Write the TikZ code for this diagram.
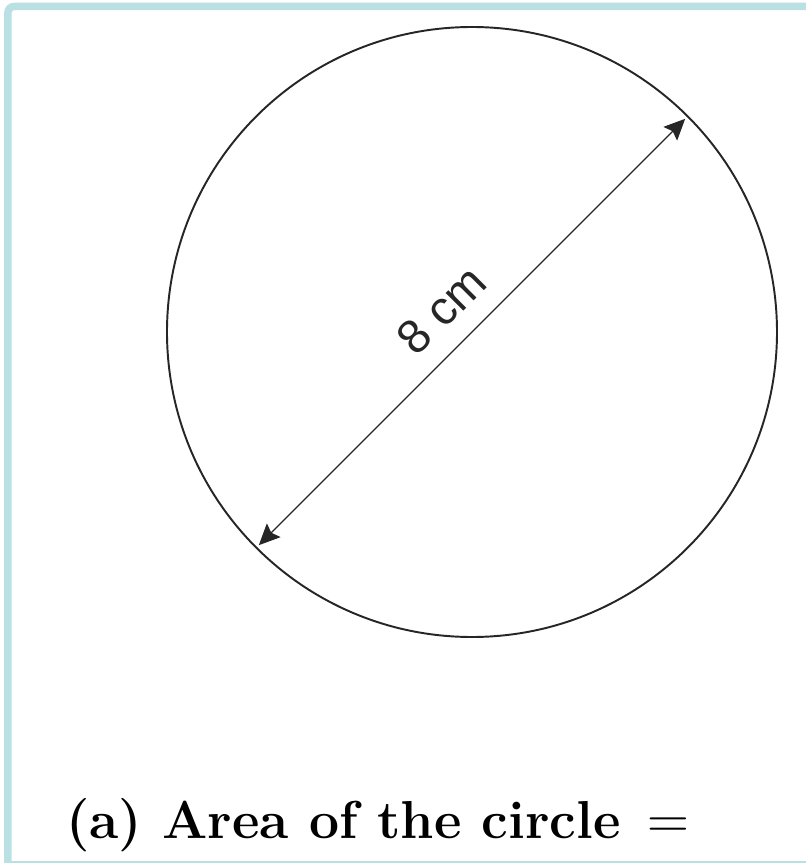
\documentclass[tikz,border=0pt]{standalone}
\usepackage{fontspec}
\usepackage{tikz}
\usetikzlibrary{arrows.meta}
\newfontfamily\labelfont{Liberation Sans}
\definecolor{framebl}{RGB}{186,224,228}

\begin{document}
\begin{tikzpicture}[>={Stealth[length=12pt, width=11pt, inset=2pt]}, rim/.style={draw=black!85, line width=1.1pt}]
	\useasboundingbox (-9.44,-10.62) rectangle (6.66,6.64);
	\draw[framebl, line width=0.15cm, rounded corners=0.12cm] (-9.28,-10.8) |- (6.9,6.51);
	\fill[framebl] (-9.28,-10.57) rectangle (6.8,-10.7);
	\node[rim, circle, minimum size=12.2cm, inner sep=0pt, outer sep=0pt] (disc) at (0,0) {};
	\draw[<->, black!85, line width=0.8pt, shorten <=2pt, shorten >=2pt] (disc.225) -- (disc.45) node[pos=0.49, sloped, above=8pt, font=\labelfont\fontsize{27}{32}\selectfont] (dia) {8 cm};
	\node[anchor=base west, inner sep=0pt, font=\fontsize{30.4}{36}\selectfont] (task) at (-8.12,-10.12) {\textbf{(a) Area of the circle}\hspace{0.5em}{\mdseries\fontsize{33}{36}\selectfont =}};
\end{tikzpicture}
\end{document}
